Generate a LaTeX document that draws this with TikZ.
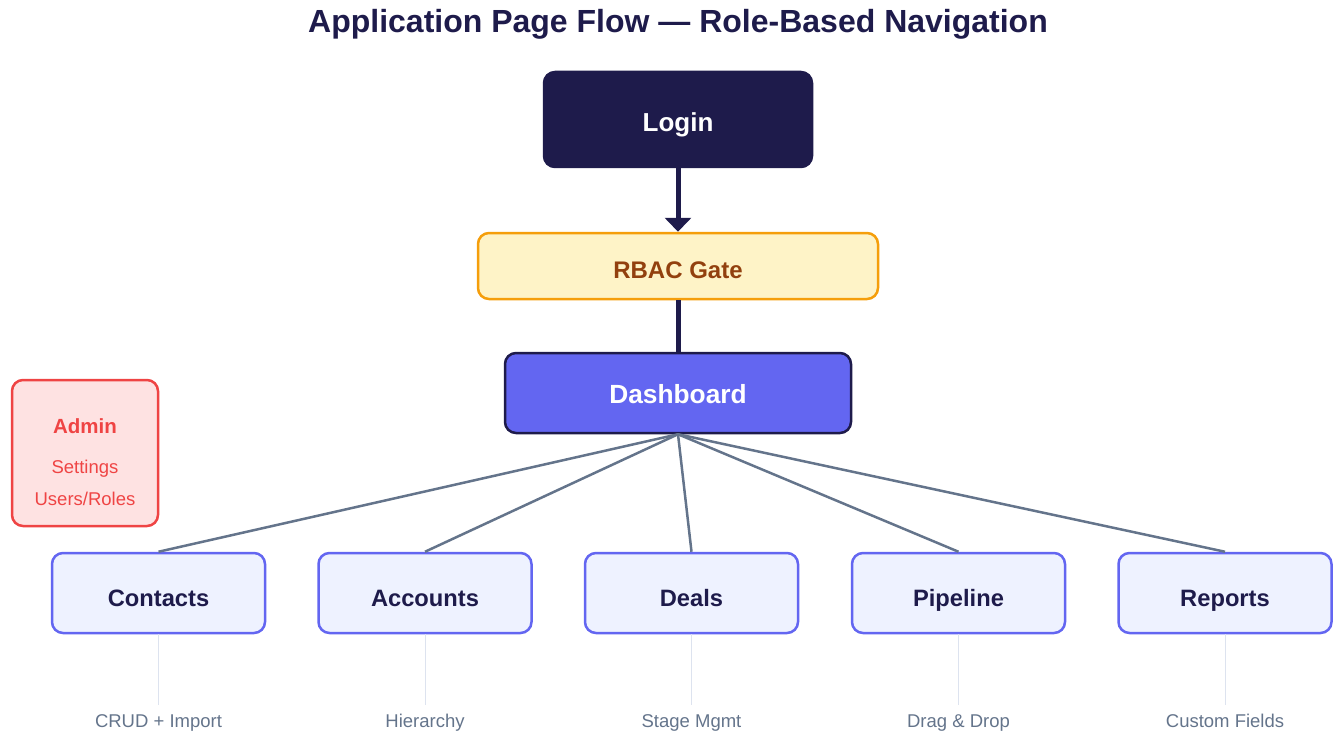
\documentclass[tikz,border=0pt]{standalone}
\usepackage{fontspec}
\setmainfont{Liberation Sans}
\usetikzlibrary{arrows.meta}

\definecolor{navy}{HTML}{1E1B4B}
\definecolor{indigo}{HTML}{6366F1}
\definecolor{indigolight}{HTML}{EEF2FF}
\definecolor{amberfill}{HTML}{FEF3C7}
\definecolor{amberline}{HTML}{F59E0B}
\definecolor{amberText}{HTML}{92400E}
\definecolor{redfill}{HTML}{FEE2E2}
\definecolor{redline}{HTML}{EF4444}
\definecolor{slate}{HTML}{64748B}
\definecolor{hairline}{HTML}{DDE3EF}

\tikzset{
  box/.style={rounded corners=11pt, line width=2.5pt, inner sep=0pt, text depth=0pt},
  loginbox/.style={box, fill=navy, draw=navy, text=white, font=\bfseries\fontsize{26}{30}\selectfont,
    text height=24.6pt, minimum width=268pt, minimum height=95pt},
  gatebox/.style={box, fill=amberfill, draw=amberline, text=amberText, font=\bfseries\fontsize{24}{28}\selectfont,
    text height=25.2pt, minimum width=400pt, minimum height=66pt},
  dashbox/.style={box, fill=indigo, draw=navy, text=white, font=\bfseries\fontsize{26.3}{30}\selectfont,
    text height=20.8pt, minimum width=346pt, minimum height=80pt},
  pagebox/.style={box, fill=indigolight, draw=indigo, text=navy, font=\bfseries\fontsize{23.7}{28}\selectfont,
    text height=27pt, minimum width=213pt, minimum height=80pt},
  adminbox/.style={box, fill=redfill, draw=redline, minimum width=146pt, minimum height=146pt},
  flow/.style={draw=navy, line width=5pt},
  branch/.style={draw=slate, line width=2.5pt},
  stem/.style={draw=hairline, line width=1pt},
  note/.style={text=slate, font=\fontsize{18.5}{22}\selectfont, anchor=base, inner sep=0pt},
  adminnote/.style={text=redline, font=\fontsize{18.5}{22}\selectfont, anchor=base, inner sep=0pt},
}

\begin{document}
\begin{tikzpicture}[x=1pt, y=-1pt]
  \useasboundingbox (0,0) rectangle (1336,733);

  % title
  \node[text=navy, font=\bfseries\fontsize{32}{38}\selectfont, anchor=base, inner sep=0pt] (title) at (678,33) {Application Page Flow — Role-Based Navigation};

  % main spine
  \node[loginbox] (login) at (678,119.5) {Login};
  \node[gatebox]  (gate)  at (678,266)   {RBAC Gate};
  \node[dashbox]  (dash)  at (678,393)   {Dashboard};

  % page boxes
  \node[pagebox] (contacts) at (158.5,593) {Contacts};
  \node[pagebox] (accounts) at (425,593)   {Accounts};
  \node[pagebox] (deals)    at (691.5,593) {Deals};
  \node[pagebox] (pipeline) at (958.5,593) {Pipeline};
  \node[pagebox] (reports)  at (1225,593)  {Reports};

  % spine connectors
  \draw[flow, -{Triangle[width=26pt,length=14pt]}] (login.south) -- (gate.north);
  \draw[flow] (gate.south) -- (dash.north);

  % branches from the dashboard
  \foreach \p in {contacts,accounts,deals,pipeline,reports}
    \draw[branch] (dash.south) -- (\p.north);

  % feature notes below each page
  \coordinate (n1) at (158.5,705);
  \coordinate (n2) at (425,705);
  \coordinate (n3) at (691.5,705);
  \coordinate (n4) at (958.5,705);
  \coordinate (n5) at (1225,705);
  \draw[stem] (contacts.south) -- (n1);
  \draw[stem] (accounts.south) -- (n2);
  \draw[stem] (deals.south) -- (n3);
  \draw[stem] (pipeline.south) -- (n4);
  \draw[stem] (reports.south) -- (n5);
  \node[note] (t1) at (158.5,727) {CRUD + Import};
  \node[note] (t2) at (425,727)   {Hierarchy};
  \node[note] (t3) at (691.5,727) {Stage Mgmt};
  \node[note] (t4) at (958.5,727) {Drag \& Drop};
  \node[note] (t5) at (1225,727)  {Custom Fields};

  % admin panel
  \node[adminbox] (admin) at (85,453) {};
  \node[adminnote, font=\bfseries\fontsize{20.5}{24}\selectfont] (adminT) at (85,433) {Admin};
  \node[adminnote] (adminS) at (85,473) {Settings};
  \node[adminnote] (adminU) at (85,505) {Users/Roles};
\end{tikzpicture}
\end{document}
